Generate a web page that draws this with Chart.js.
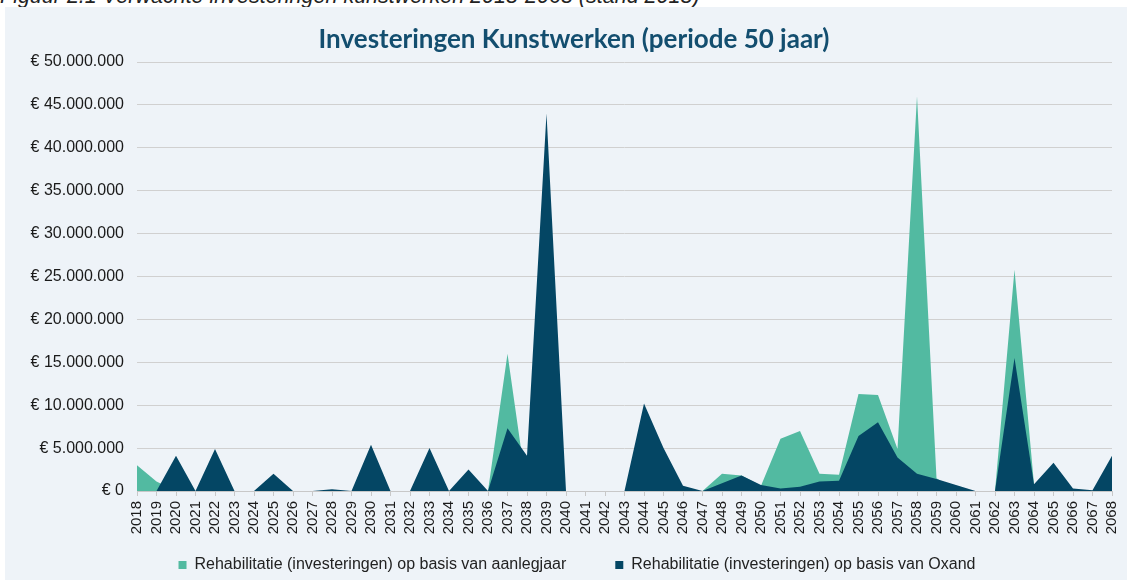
<!DOCTYPE html>
<html>
<head>
<meta charset="utf-8">
<script src="https://cdn.jsdelivr.net/npm/chart.js"></script>
<style>
  body { margin: 0; background: #fff; width: 1130px; height: 580px; overflow: hidden; position: relative; font-family: "Liberation Sans", Arial, sans-serif; }
  #caption { position: absolute; left: 0; top: -14px; font-style: italic; font-size: 21.5px; line-height: 1; color: #222; white-space: nowrap; }
  #panel { position: absolute; left: 5px; top: 7px; width: 1122px; height: 573px; background: #EEF3F8; }
</style>
</head>
<body>
<div id="caption">Figuur 2.1 Verwachte investeringen kunstwerken 2018-2068 (stand 2018)</div>
<div id="panel"><canvas id="chart"></canvas></div>
<script>
const titleText = 'Investeringen Kunstwerken (periode 50 jaar)';
const seriesNames = [
  'Rehabilitatie (investeringen) op basis van aanlegjaar',
  'Rehabilitatie (investeringen) op basis van Oxand'
];

const years = ['2018','2019','2020','2021','2022','2023','2024','2025','2026','2027',
  '2028','2029','2030','2031','2032','2033','2034','2035','2036','2037',
  '2038','2039','2040','2041','2042','2043','2044','2045','2046','2047',
  '2048','2049','2050','2051','2052','2053','2054','2055','2056','2057',
  '2058','2059','2060','2061','2062','2063','2064','2065','2066','2067','2068'];

// aanlegjaar (teal, behind)
const aanlegjaar = [3000000, 1100000, 0, 0, 0, 0, 0, 0, 0, 0,
  0, 0, 0, 0, 0, 0, 0, 0, 0, 16000000,
  0, 0, 0, 0, 0, 0, 0, 0, 0, 0,
  2000000, 1800000, 600000, 6100000, 7000000, 2000000, 1900000, 11300000, 11200000, 4900000,
  46000000, 1500000, 0, 0, 0, 25800000, 800000, 0, 0, 0, 0];

// Oxand (dark, in front)
const oxand = [0, 0, 4100000, 0, 4900000, 0, 0, 2000000, 0, 0,
  200000, 0, 5400000, 0, 0, 5000000, 0, 2500000, 0, 7300000,
  4100000, 44000000, 0, 0, 0, 0, 10200000, 5000000, 600000, 0,
  900000, 1800000, 700000, 300000, 500000, 1100000, 1200000, 6400000, 8000000, 3900000,
  2000000, 1400000, 700000, 0, 0, 15500000, 800000, 3300000, 300000, 100000, 4100000];

const yMax = 50000000;
const yStep = 5000000;

function euro(v) {
  return '€ ' + String(v).replace(/\B(?=(\d{3})+(?!\d))/g, '.');
}

// move title and legend row into place
const blockShift = {
  id: 'blockShift',
  afterLayout(chart) {
    chart.titleBlock.left += 31;
    chart.legend.left += 37;
    chart.legend.top -= 29;
  }
};

const ctx = document.getElementById('chart');

new Chart(ctx, {
  type: 'line',
  plugins: [blockShift],
  data: {
    labels: years,
    datasets: [
      {
        label: seriesNames[0],
        data: aanlegjaar,
        backgroundColor: '#52BAA1',
        borderColor: 'rgba(0,0,0,0)',
        borderWidth: 0,
        fill: 'origin',
        pointRadius: 0,
        tension: 0,
        order: 2
      },
      {
        label: seriesNames[1],
        data: oxand,
        backgroundColor: '#044664',
        borderColor: 'rgba(0,0,0,0)',
        borderWidth: 0,
        fill: 'origin',
        pointRadius: 0,
        tension: 0,
        order: 1
      }
    ]
  },
  options: {
    responsive: true,
    maintainAspectRatio: false,
    animation: false,
    layout: { padding: { left: 0, right: 15, top: 0, bottom: 0 } },
    plugins: {
      title: {
        display: true,
        text: titleText,
        color: '#134E6F',
        font: { family: 'Lato', size: 26, weight: 'bold' },
        padding: { top: 17.4, bottom: 6.4 }
      },
      legend: {
        position: 'bottom',
        maxHeight: 43,
        labels: {
          sort: (a, b) => a.datasetIndex - b.datasetIndex,
          boxWidth: 8,
          boxHeight: 8,
          padding: 49,
          color: '#222',
          font: { family: 'Liberation Sans', size: 16 }
        }
      },
      tooltip: { enabled: false }
    },
    scales: {
      x: {
        grid: { drawOnChartArea: false, drawTicks: true, tickLength: 5, color: '#C8C8C8' },
        border: { color: '#C8C8C8' },
        ticks: {
          autoSkip: false,
          minRotation: 90,
          maxRotation: 90,
          padding: 5,
          color: '#1a1a1a',
          font: { family: 'Liberation Sans', size: 15 }
        },
        afterFit: s => { s.height = 46; s.paddingLeft = 0; s.paddingRight = 0; }
      },
      y: {
        min: 0,
        max: yMax,
        ticks: {
          stepSize: yStep,
          padding: 13,
          color: '#1a1a1a',
          font: { family: 'Liberation Sans', size: 16 },
          callback: v => euro(v)
        },
        grid: { color: '#D0D0D0', drawTicks: false },
        border: { display: false },
        afterFit: s => { s.width = 132; s.paddingTop = 0; s.paddingBottom = 0; }
      }
    }
  }
});
</script>
</body>
</html>
